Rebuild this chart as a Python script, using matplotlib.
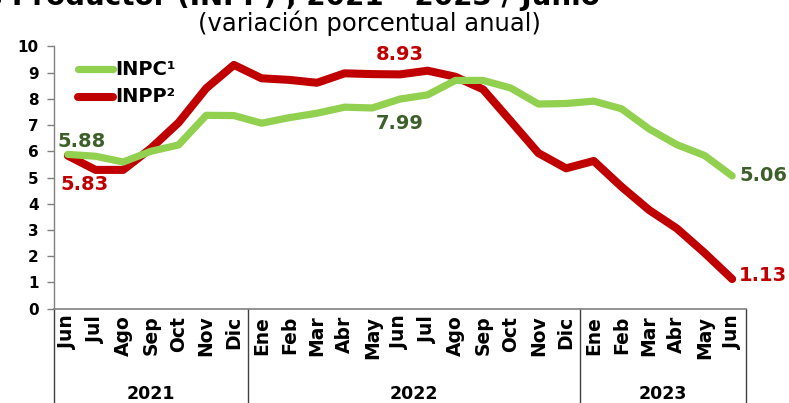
import matplotlib
matplotlib.use("Agg")
import matplotlib.pyplot as plt
import matplotlib.transforms as mtransforms
from matplotlib.lines import Line2D

months = ["Jun", "Jul", "Ago", "Sep", "Oct", "Nov", "Dic",
          "Ene", "Feb", "Mar", "Abr", "May", "Jun", "Jul", "Ago", "Sep", "Oct", "Nov", "Dic",
          "Ene", "Feb", "Mar", "Abr", "May", "Jun"]
years = ["2021", "2022", "2023"]
year_counts = [7, 12, 6]

inpc = [5.88, 5.81, 5.59, 6.00, 6.24, 7.37, 7.36,
        7.07, 7.28, 7.45, 7.68, 7.65, 7.99, 8.15, 8.70, 8.70, 8.41, 7.80, 7.82,
        7.91, 7.62, 6.85, 6.25, 5.84, 5.06]
inpp = [5.83, 5.29, 5.29, 6.11, 7.09, 8.40, 9.29,
        8.78, 8.72, 8.61, 8.97, 8.94, 8.93, 9.07, 8.84, 8.36, 7.15, 5.93, 5.35,
        5.63, 4.65, 3.76, 3.06, 2.13, 1.13]

GREEN = "#92d050"
DKGREEN = "#3d5f2a"
RED = "#c00000"

fig = plt.figure(figsize=(7.89, 4.03), dpi=100)
W, H = 789, 403
ax = fig.add_axes([54 / W, 1 - 308.7 / H, (746 - 54) / W, (308.7 - 46.3) / H])

x = list(range(len(months)))
ax.plot(x, inpc, color=GREEN, lw=5.2, solid_capstyle="round", solid_joinstyle="round", zorder=3)
ax.plot(x, inpp, color=RED, lw=5.8, solid_capstyle="round", solid_joinstyle="round", zorder=2)

ax.set_xlim(-0.5, len(months) - 0.5)
ax.set_ylim(0, 10)
ax.set_yticks(range(0, 11))
ax.tick_params(axis="y", direction="out", length=5, width=1, color="#808080", labelsize=11, pad=6)
for lab in ax.get_yticklabels():
    lab.set_fontweight("bold")
ax.set_xticks(x)
ax.set_xticklabels(months, rotation=90, fontsize=13.5, fontweight="bold", va="top", ha="center")
ax.tick_params(axis="x", length=0, pad=5)

for s in ["top", "right"]:
    ax.spines[s].set_visible(False)
ax.spines["left"].set_color("#808080")
ax.spines["bottom"].set_color("#808080")
ax.spines["left"].set_linewidth(1)
ax.spines["bottom"].set_linewidth(1.2)

# group separators and year labels
trans = mtransforms.blended_transform_factory(ax.transData, ax.transAxes)
edges = [-0.5]
for c in year_counts:
    edges.append(edges[-1] + c)
for e in edges:
    ax.add_line(Line2D([e, e], [0, -0.5], transform=trans, color="#404040", lw=1, clip_on=False))
for i, yr in enumerate(years):
    mid = (edges[i] + edges[i + 1]) / 2
    ax.text(mid, -0.325, yr, transform=trans, ha="center", va="center", fontsize=12.5, fontweight="bold")

# data labels
ax.text(0.5, 6.38, "5.88", color=DKGREEN, fontsize=14, fontweight="bold", ha="center", va="center")
ax.text(0.6, 4.72, "5.83", color=RED, fontsize=14, fontweight="bold", ha="center", va="center")
ax.text(12, 9.7, "8.93", color=RED, fontsize=14, fontweight="bold", ha="center", va="center")
ax.text(12, 7.04, "7.99", color=DKGREEN, fontsize=14, fontweight="bold", ha="center", va="center")
ax.text(24.25, 5.08, "5.06", color=DKGREEN, fontsize=14, fontweight="bold", ha="left", va="center")
ax.text(24.25, 1.28, "1.13", color=RED, fontsize=14, fontweight="bold", ha="left", va="center")

# legend (drawn manually)
for yv, col, lw, txt in [(9.12, GREEN, 5.2, "INPC¹"), (8.08, RED, 5.8, "INPP²")]:
    ax.add_line(Line2D([0.36, 1.63], [yv, yv], color=col, lw=lw, solid_capstyle="round", clip_on=False))
    ax.text(1.70, yv, txt, fontsize=14, fontweight="bold", ha="left", va="center")

# titles (the main title is cut off at the top edge, as in the source image)
fig.text(600 / W, 1 - 5 / H, "Índice Nacional de Precios Productor (INPP) , 2021 - 2023 / Junio",
         ha="right", va="baseline", fontsize=20, fontweight="bold")
fig.text(369 / W, 1 - 31 / H, "(variación porcentual anual)", ha="center", va="baseline", fontsize=17.5)

fig.savefig("out.png", dpi=100)
